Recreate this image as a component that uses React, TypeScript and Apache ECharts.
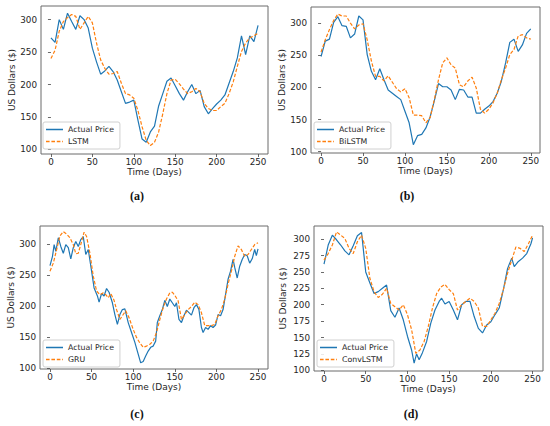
import React, { useEffect, useRef } from "react";
import * as echarts from "echarts";

// ---------- data ----------
const days5 = [0, 5, 10, 15, 20, 25, 30, 35, 40, 45, 50, 55, 60, 65, 70, 75, 80, 85, 90, 95, 100, 105, 110, 115, 120, 125, 130, 135, 140, 145, 150, 155, 160, 165, 170, 175, 180, 185, 190, 195, 200, 205, 210, 215, 220, 225, 230, 235, 240, 245, 250];

const actualA = [272, 265, 300, 285, 310, 297, 285, 306, 300, 287, 256, 235, 216, 221, 228, 220, 207, 189, 171, 173, 176, 145, 116, 111, 127, 136, 167, 186, 205, 210, 198, 186, 176, 189, 200, 186, 191, 166, 155, 163, 170, 176, 184, 202, 220, 241, 275, 246, 275, 266, 291];
const lstmA = [240, 253, 282, 297, 303, 308, 305, 285, 295, 305, 295, 264, 238, 225, 216, 217, 220, 202, 186, 184, 179, 160, 135, 114, 106, 111, 127, 155, 186, 207, 208, 201, 193, 186, 189, 194, 189, 171, 163, 160, 160, 166, 171, 186, 204, 228, 251, 264, 272, 275, 279];

const actualB = [248, 272, 275, 301, 310, 296, 295, 277, 283, 311, 305, 251, 225, 212, 229, 212, 196, 191, 186, 181, 163, 145, 111, 125, 127, 137, 154, 179, 206, 201, 201, 196, 181, 197, 196, 185, 185, 160, 160, 166, 171, 178, 191, 210, 238, 270, 275, 256, 266, 284, 291];
const bilstmB = [255, 274, 290, 304, 314, 311, 311, 300, 291, 297, 299, 274, 241, 217, 217, 210, 218, 208, 198, 193, 198, 184, 157, 157, 156, 145, 153, 181, 212, 238, 246, 235, 230, 204, 201, 210, 216, 199, 166, 160, 166, 176, 191, 212, 230, 251, 259, 280, 282, 277, 275];

const daysCActual = [0, 3, 5, 7, 10, 13, 16, 19, 22, 25, 28, 31, 34, 37, 40, 43, 46, 50, 53, 57, 59, 62, 65, 68, 71, 75, 78, 81, 84, 87, 90, 94, 98, 102, 106, 109, 112, 115, 118, 121, 124, 127, 129, 132, 135, 138, 141, 144, 147, 150, 152, 155, 158, 161, 164, 167, 170, 173, 176, 179, 182, 184, 187, 190, 193, 196, 199, 202, 205, 208, 211, 214, 217, 220, 222, 225, 228, 231, 234, 237, 240, 243, 246, 248, 250];
const actualC = [265, 280, 299, 288, 310, 296, 285, 299, 294, 276, 294, 304, 296, 307, 312, 283, 291, 256, 229, 216, 206, 220, 216, 228, 222, 205, 186, 170, 186, 194, 195, 173, 157, 141, 122, 108, 110, 119, 127, 133, 135, 143, 173, 184, 194, 209, 199, 211, 205, 199, 205, 178, 173, 184, 193, 189, 185, 197, 202, 194, 165, 157, 165, 162, 168, 165, 169, 186, 184, 194, 218, 243, 256, 275, 262, 245, 264, 275, 283, 281, 269, 276, 291, 281, 292];
const daysCGru = [0, 4, 8, 12, 16, 20, 24, 28, 31, 34, 37, 41, 44, 48, 52, 56, 60, 64, 67, 70, 73, 77, 80, 84, 88, 91, 95, 100, 104, 108, 112, 116, 120, 124, 128, 132, 136, 140, 144, 147, 150, 154, 158, 162, 166, 170, 174, 178, 182, 186, 190, 194, 198, 202, 206, 210, 214, 218, 222, 226, 230, 234, 238, 242, 246, 250];
const gruC = [256, 269, 291, 313, 320, 316, 310, 299, 284, 285, 299, 319, 312, 285, 248, 224, 218, 221, 218, 213, 220, 209, 194, 178, 186, 192, 181, 162, 149, 140, 133, 135, 138, 143, 157, 178, 197, 211, 221, 222, 217, 208, 178, 186, 194, 199, 206, 202, 189, 168, 168, 168, 170, 184, 194, 211, 235, 256, 280, 297, 291, 280, 283, 291, 299, 302];

const daysDActual = [0, 3, 5, 10, 15, 20, 25, 30, 35, 40, 45, 50, 55, 60, 65, 70, 75, 80, 85, 90, 95, 100, 105, 108, 111, 114, 118, 123, 128, 133, 138, 141, 145, 150, 155, 160, 165, 170, 175, 180, 185, 190, 195, 200, 205, 210, 215, 220, 225, 228, 233, 238, 243, 248, 250];
const actualD = [262, 279, 291, 306, 299, 291, 282, 276, 290, 305, 310, 250, 233, 217, 220, 225, 230, 191, 181, 195, 177, 152, 131, 111, 125, 116, 127, 144, 172, 192, 205, 210, 201, 205, 192, 177, 200, 205, 205, 182, 164, 157, 169, 174, 185, 195, 223, 255, 271, 258, 266, 271, 278, 293, 302];
const convD = [268, 278, 291, 311, 306, 301, 286, 278, 296, 306, 286, 240, 220, 211, 216, 225, 202, 197, 192, 200, 185, 162, 126, 131, 144, 167, 195, 217, 227, 231, 223, 217, 192, 200, 205, 210, 205, 195, 167, 167, 177, 187, 202, 223, 248, 268, 288, 286, 281, 293, 306];

const xTicks = [0, 50, 100, 150, 200, 250];
const yTicksABC = [100, 150, 200, 250, 300];
const yTicksD = [100, 125, 150, 175, 200, 225, 250, 275, 300];

const actualName = "Actual Price";
const modelNames = ["LSTM", "BiLSTM", "GRU", "ConvLSTM"];
const panelLabels = ["(a)", "(b)", "(c)", "(d)"];
const xAxisTitle = "Time (Days)";
const yAxisTitle = "US Dollars ($)";

const BLUE = "#1f77b4";
const ORANGE = "#ff7f0e";
const FONT = "DejaVu Sans";
const DASH = [3.5, 1.8];

// legend keys drawn as filled shapes in a 17x9 box (tiny corner dots pin the box size)
const CORNERS = "M0,0h0.01v0.01h-0.01zM16.99,8.99h0.01v0.01h-0.01z";
const SOLID_ICON = "path://" + CORNERS + "M0,3.7h17v1.6h-17z";
const DASHED_ICON = "path://" + CORNERS + "M0,3.7h3.6v1.6h-3.6zM5.4,3.7h3.6v1.6h-3.6zM10.8,3.7h3.6v1.6h-3.6zM16.2,3.7h0.8v1.6h-0.8z";

const zip = (xs: number[], ys: number[]) => xs.map((x, i) => [x, ys[i]]);

export default function App() {
  const ref = useRef<HTMLDivElement>(null);
  useEffect(() => {
    if (!ref.current) return;
    const chart = echarts.init(ref.current, undefined, { renderer: "svg" });

    const panels = [
      { grid: { left: 41, top: 6, width: 227, height: 148 }, x: [-12, 262], y: [93, 321], yt: yTicksABC, act: zip(days5, actualA), mod: zip(days5, lstmA), leg: { left: 43, top: 122 }, lab: [137, 196] },
      { grid: { left: 311, top: 7, width: 229, height: 146 }, x: [-12, 261], y: [98, 325], yt: yTicksABC, act: zip(days5, actualB), mod: zip(days5, bilstmB), leg: { left: 314, top: 122 }, lab: [407, 196] },
      { grid: { left: 40, top: 226, width: 228, height: 143 }, x: [-12, 262], y: [98, 329], yt: yTicksABC, act: zip(daysCActual, actualC), mod: zip(daysCGru, gruC), leg: { left: 43, top: 340 }, lab: [137, 414] },
      { grid: { left: 314, top: 226, width: 229, height: 145 }, x: [-12, 262.5], y: [99, 320], yt: yTicksD, act: zip(daysDActual, actualD), mod: zip(days5, convD), leg: { left: 317, top: 340 }, lab: [411, 414] },
    ];

    const grid: any[] = [];
    const xAxis: any[] = [];
    const yAxis: any[] = [];
    const series: any[] = [];
    const legend: any[] = [];
    const graphic: any[] = [];

    panels.forEach((p, i) => {
      grid.push({ ...p.grid, show: true, borderColor: "#6b6b6b", borderWidth: 1, backgroundColor: "#fff" });
      xAxis.push({
        type: "value", gridIndex: i, min: p.x[0], max: p.x[1],
        name: xAxisTitle, nameLocation: "middle", nameGap: 13,
        nameTextStyle: { fontFamily: FONT, fontSize: 9, color: "#262626" },
        axisLine: { show: false },
        axisTick: { show: true, length: 3, customValues: xTicks, lineStyle: { color: "#444", width: 0.8 } },
        axisLabel: { customValues: xTicks, margin: 3, fontFamily: FONT, fontSize: 8.8, color: "#262626" },
        splitLine: { show: false },
      });
      yAxis.push({
        type: "value", gridIndex: i, min: p.y[0], max: p.y[1],
        name: yAxisTitle, nameLocation: "middle", nameGap: i === 3 ? 27 : 25, nameRotate: 90,
        nameTextStyle: { fontFamily: FONT, fontSize: 9, color: "#262626" },
        axisLine: { show: false },
        axisTick: { show: true, length: 3, customValues: p.yt, lineStyle: { color: "#444", width: 0.8 } },
        axisLabel: { customValues: p.yt, margin: 4, fontFamily: FONT, fontSize: 8.8, color: "#262626" },
        splitLine: { show: false },
      });
      series.push({
        type: "line", name: actualName, xAxisIndex: i, yAxisIndex: i, data: p.act,
        symbol: "none", lineStyle: { color: BLUE, width: 1.2 }, itemStyle: { color: BLUE },
      });
      series.push({
        type: "line", name: modelNames[i], xAxisIndex: i, yAxisIndex: i, data: p.mod,
        symbol: "none", lineStyle: { color: ORANGE, width: 1.2, type: DASH }, itemStyle: { color: ORANGE },
      });
      legend.push({
        data: [
          { name: actualName, icon: SOLID_ICON, itemStyle: { color: BLUE, borderWidth: 0, opacity: 1 } },
          { name: modelNames[i], icon: DASHED_ICON, itemStyle: { color: ORANGE, borderWidth: 0, opacity: 1 } },
        ],
        orient: "vertical", left: p.leg.left, top: p.leg.top,
        itemWidth: 17, itemHeight: 9, itemGap: 3, padding: [3, 6, 3, 3],
        backgroundColor: "rgba(255,255,255,0.85)", borderColor: "#d0d0d0", borderWidth: 1, borderRadius: 2,
        selectedMode: false,
        textStyle: { fontFamily: FONT, fontSize: 7.8, color: "#262626", lineHeight: 9 },
      });
      graphic.push({
        type: "text", x: p.lab[0], y: p.lab[1],
        style: { text: panelLabels[i], font: "bold 12px 'Liberation Serif'", fill: "#111", align: "center", verticalAlign: "middle" },
      });
    });

    chart.setOption({ animation: false, backgroundColor: "#fff", grid, xAxis, yAxis, series, legend, graphic });
    return () => chart.dispose();
  }, []);

  return <div ref={ref} style={{ position: "fixed", left: 0, top: 0, width: 550, height: 426 }} />;
}
